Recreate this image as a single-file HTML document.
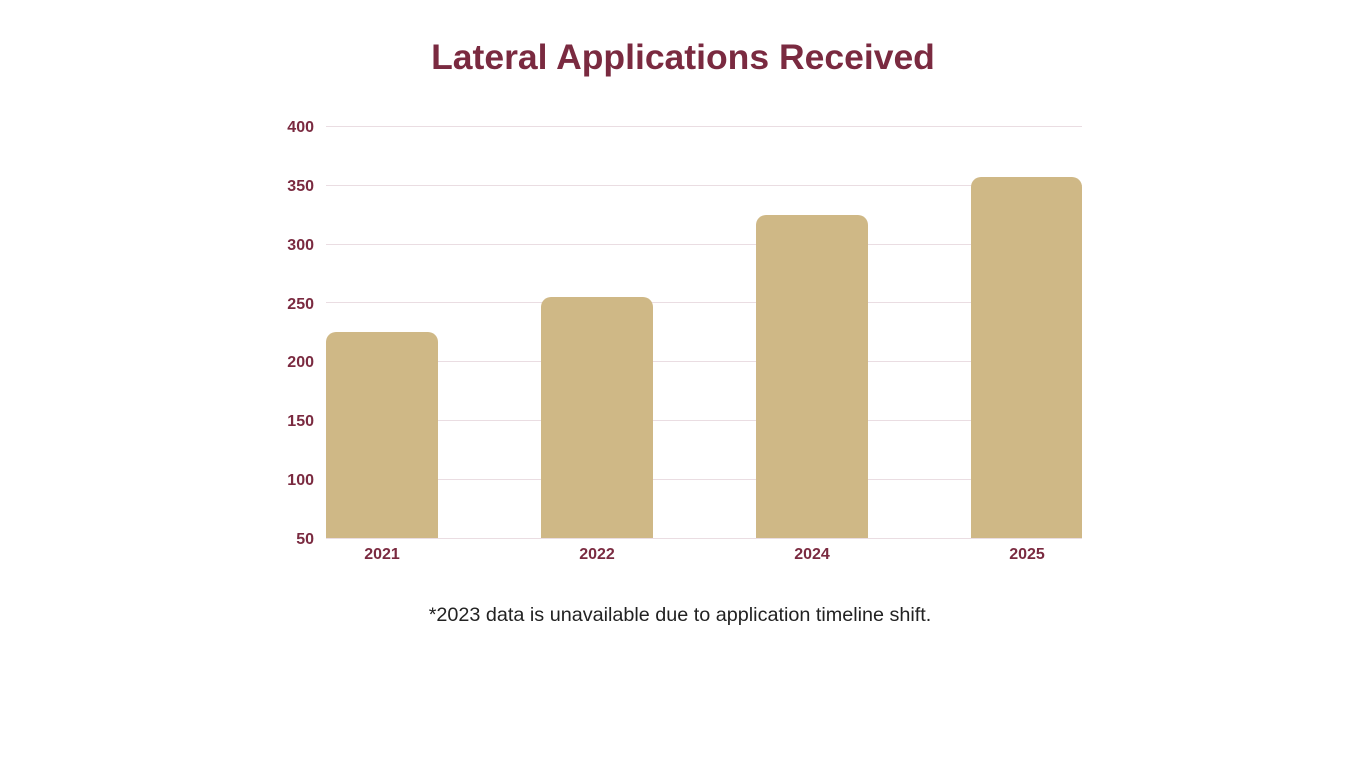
<!DOCTYPE html>
<html><head><meta charset="utf-8"><style>
html,body{margin:0;padding:0;background:#fff;}
body{width:1366px;height:768px;overflow:hidden;font-family:"Liberation Sans",sans-serif;}
</style></head><body>
<svg width="1366" height="768" xmlns="http://www.w3.org/2000/svg">
<text x="683" y="69" text-anchor="middle" font-family="Liberation Sans, sans-serif" font-weight="bold" font-size="35.5" fill="#7a2a40">Lateral Applications Received</text>
<g stroke="#eadde2" stroke-width="1">
<line x1="326" x2="1082" y1="126.5" y2="126.5"/>
<line x1="326" x2="1082" y1="185.5" y2="185.5"/>
<line x1="326" x2="1082" y1="244.5" y2="244.5"/>
<line x1="326" x2="1082" y1="302.5" y2="302.5"/>
<line x1="326" x2="1082" y1="361.5" y2="361.5"/>
<line x1="326" x2="1082" y1="420.5" y2="420.5"/>
<line x1="326" x2="1082" y1="479.5" y2="479.5"/>
<line x1="326" x2="1082" y1="538.5" y2="538.5"/>
</g>
<g font-family="Liberation Sans, sans-serif" font-weight="bold" font-size="16" fill="#7a2a40" text-anchor="end">
<text x="314" y="132">400</text>
<text x="314" y="191">350</text>
<text x="314" y="250">300</text>
<text x="314" y="309">250</text>
<text x="314" y="367">200</text>
<text x="314" y="426">150</text>
<text x="314" y="485">100</text>
<text x="314" y="544">50</text>
</g>
<g fill="#cfb886">
<path d="M326,538 V342 a10,10 0 0 1 10,-10 H428 a10,10 0 0 1 10,10 V538 Z"/>
<path d="M541,538 V307 a10,10 0 0 1 10,-10 H643 a10,10 0 0 1 10,10 V538 Z"/>
<path d="M756,538 V225 a10,10 0 0 1 10,-10 H858 a10,10 0 0 1 10,10 V538 Z"/>
<path d="M971,538 V187 a10,10 0 0 1 10,-10 H1072 a10,10 0 0 1 10,10 V538 Z"/>
</g>
<g font-family="Liberation Sans, sans-serif" font-weight="bold" font-size="16" fill="#7a2a40" text-anchor="middle">
<text x="382" y="559">2021</text>
<text x="597" y="559">2022</text>
<text x="812" y="559">2024</text>
<text x="1027" y="559">2025</text>
</g>
<text x="680" y="621" text-anchor="middle" font-family="Liberation Sans, sans-serif" font-size="19.8" fill="#222">*2023 data is unavailable due to application timeline shift.</text>
</svg>
</body></html>
